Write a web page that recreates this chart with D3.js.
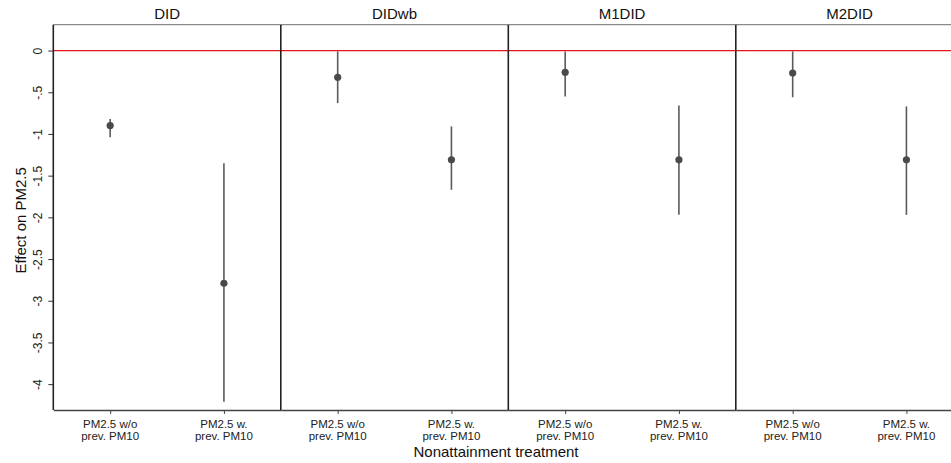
<!DOCTYPE html>
<html>
<head>
<meta charset="utf-8">
<script src="https://cdn.jsdelivr.net/npm/d3@7"></script>
<style>
  html, body { margin: 0; padding: 0; background: #fff; }
  svg { display: block; font-family: "Liberation Sans", Arial, Helvetica, sans-serif; }
</style>
</head>
<body>
<svg id="chart" width="951" height="463"></svg>
<script>
// Estimators shown as facets
const panels = ["DID", "DIDwb", "M1DID", "M2DID"];
// Treatment categories within each facet (two-line tick labels)
const treatments = ["wo", "w"];
const treatmentLabels = [["PM2.5 w/o", "prev. PM10"], ["PM2.5 w.", "prev. PM10"]];

// Point estimates and 95% confidence bounds, one value per facet
const woEst = [-0.90, -0.32, -0.26, -0.27];
const woLow = [-1.04, -0.63, -0.55, -0.56];
const woHigh = [-0.82, -0.01, -0.01, -0.01];
const wEst = [-2.79, -1.31, -1.31, -1.31];
const wLow = [-4.21, -1.67, -1.97, -1.97];
const wHigh = [-1.35, -0.91, -0.66, -0.67];

// Y axis ticks and their labels
const yTicks = [0, -0.5, -1, -1.5, -2, -2.5, -3, -3.5, -4];
const yTickLabels = ["0", "-.5", "-1", "-1.5", "-2", "-2.5", "-3", "-3.5", "-4"];

const rows = [];
panels.forEach((p, i) => {
  rows.push({ panel: p, treat: "wo", est: woEst[i], lo: woLow[i], hi: woHigh[i] });
  rows.push({ panel: p, treat: "w", est: wEst[i], lo: wLow[i], hi: wHigh[i] });
});

const svg = d3.select("#chart");
const m = { left: 53.3, top: 24.7, bottom: 410 };
const panelW = 227.5;

const fx = d3.scaleBand().domain(panels).range([m.left, m.left + panelW * panels.length]).padding(0);
const x = d3.scalePoint().domain(treatments).range([0, fx.bandwidth()]).padding(0.5);
const y = d3.scaleLinear().domain([-4.31, 0.31]).range([m.bottom, m.top]);

// Y axis
const yAxis = svg.append("g").attr("transform", `translate(${m.left},0)`)
  .call(d3.axisLeft(y).tickValues(yTicks).tickFormat((d, i) => yTickLabels[i]).tickSize(5).tickSizeOuter(0));
yAxis.select(".domain").remove();
yAxis.selectAll(".tick line").attr("stroke", "#333").attr("stroke-width", 1);
yAxis.selectAll(".tick text")
  .attr("transform", "rotate(-90)")
  .attr("x", 0).attr("y", -11).attr("dy", 0)
  .attr("text-anchor", "middle")
  .attr("font-size", 12).attr("fill", "#222");

svg.append("text")
  .attr("transform", `translate(26,${(m.top + m.bottom) / 2 + 3}) rotate(-90)`)
  .attr("text-anchor", "middle")
  .attr("font-size", 15).attr("fill", "#111")
  .text("Effect on PM2.5");

// Facets
panels.forEach(p => {
  const g = svg.append("g").attr("transform", `translate(${fx(p)},0)`);
  const w = fx.bandwidth();

  // title above the facet
  g.append("text").attr("x", w / 2).attr("y", 18.5)
    .attr("text-anchor", "middle")
    .attr("font-size", 15).attr("fill", "#111").text(p);

  // top edge
  g.append("line").attr("x1", 0).attr("x2", w).attr("y1", m.top).attr("y2", m.top)
    .attr("stroke", "#8a8a8a").attr("stroke-width", 1.2);

  // zero reference line
  g.append("line").attr("x1", 0).attr("x2", w).attr("y1", y(0)).attr("y2", y(0))
    .attr("stroke", "#e8121a").attr("stroke-width", 1.2);

  // bottom axis with category ticks
  const xa = g.append("g").attr("transform", `translate(0,${m.bottom})`)
    .call(d3.axisBottom(x).tickSize(4).tickSizeOuter(0).tickFormat(""));
  xa.select(".domain").attr("stroke", "#444").attr("stroke-width", 1.5);
  xa.selectAll(".tick line").attr("stroke", "#444");
  treatments.forEach((t, i) => {
    const lbl = g.append("text").attr("x", x(t)).attr("y", 428)
      .attr("text-anchor", "middle").attr("font-size", 11.5).attr("fill", "#222");
    treatmentLabels[i].forEach((line, k) => {
      lbl.append("tspan").attr("x", x(t)).attr("dy", k === 0 ? 0 : 11.5).text(line);
    });
  });

  // left edge of the facet
  g.append("line").attr("x1", 0).attr("x2", 0).attr("y1", m.top).attr("y2", m.bottom)
    .attr("stroke", "#222").attr("stroke-width", 1.6);

  // confidence intervals and estimates
  const d = rows.filter(r => r.panel === p);
  g.selectAll("line.ci").data(d).join("line").attr("class", "ci")
    .attr("x1", r => x(r.treat)).attr("x2", r => x(r.treat))
    .attr("y1", r => y(r.hi)).attr("y2", r => y(r.lo))
    .attr("stroke", "#5a5a5a").attr("stroke-width", 1.6);
  g.selectAll("circle.est").data(d).join("circle").attr("class", "est")
    .attr("cx", r => x(r.treat)).attr("cy", r => y(r.est)).attr("r", 3.6)
    .attr("fill", "#4a4a4a");
});

svg.append("text")
  .attr("x", 496).attr("y", 457)
  .attr("text-anchor", "middle").attr("font-size", 15).attr("fill", "#111")
  .text("Nonattainment treatment");
</script>
</body>
</html>
